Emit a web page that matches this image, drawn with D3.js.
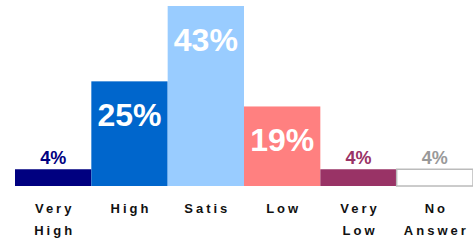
<!DOCTYPE html>
<html>
<head>
<meta charset="utf-8">
<script src="https://cdn.jsdelivr.net/npm/d3@7"></script>
<style>
  body { margin: 0; background: #fff; }
  svg { display: block; font-family: "Liberation Sans", Arial, sans-serif; }
</style>
</head>
<body>
<svg class="rating-chart" width="473" height="241"></svg>
<script>
const categories = [['Very', 'High'], ['High'], ['Satis'], ['Low'], ['Very', 'Low'], ['No', 'Answer']]
const values = [4, 25, 43, 19, 4, 4]
const barColors = ['#000080', '#0066cc', '#99ccff', '#ff8080', '#993366', '#ffffff']
const labelColors = ['#000080', '#ffffff', '#ffffff', '#ffffff', '#993366', '#999999']

const svg = d3.select('.rating-chart')
const baseline = 186

const x = d3.scaleBand()
  .domain(d3.range(values.length))
  .range([15, 473])
  .padding(0)

const y = d3.scaleLinear()
  .domain([0, 43])
  .range([baseline, 6])

// bars
svg.append('g')
  .selectAll('rect')
  .data(values)
  .enter()
  .append('rect')
  .attr('x', (d, i) => x(i))
  .attr('y', d => y(d))
  .attr('width', x.bandwidth())
  .attr('height', d => baseline - y(d))
  .attr('fill', (d, i) => barColors[i])
  .attr('stroke', (d, i) => i === 5 ? '#bbbbbb' : 'none')
  .attr('stroke-width', 1.5)

// value labels: big ones sit inside, small ones above
svg.append('g')
  .selectAll('text')
  .data(values)
  .enter()
  .append('text')
  .attr('x', (d, i) => x(i) + x.bandwidth() / 2)
  .attr('y', d => d > 10 ? y(d) + 45 : y(d) - 5)
  .attr('text-anchor', 'middle')
  .attr('font-weight', 'bold')
  .attr('font-size', d => d > 10 ? 32 : 18)
  .attr('fill', (d, i) => labelColors[i])
  .text(d => d + '%')

// category labels
const cats = svg.append('g')
  .selectAll('text')
  .data(categories)
  .enter()
  .append('text')
  .attr('text-anchor', 'middle')
  .attr('font-weight', 'bold')
  .attr('font-size', 13)
  .attr('letter-spacing', 3)
  .attr('fill', '#111')

cats.selectAll('tspan')
  .data((d, i) => d.map(line => ({ line, i })))
  .enter()
  .append('tspan')
  .attr('x', d => x(d.i) + x.bandwidth() / 2 + 1.5)
  .attr('y', (d, j) => 213 + j * 22)
  .text(d => d.line)
</script>
</body>
</html>
